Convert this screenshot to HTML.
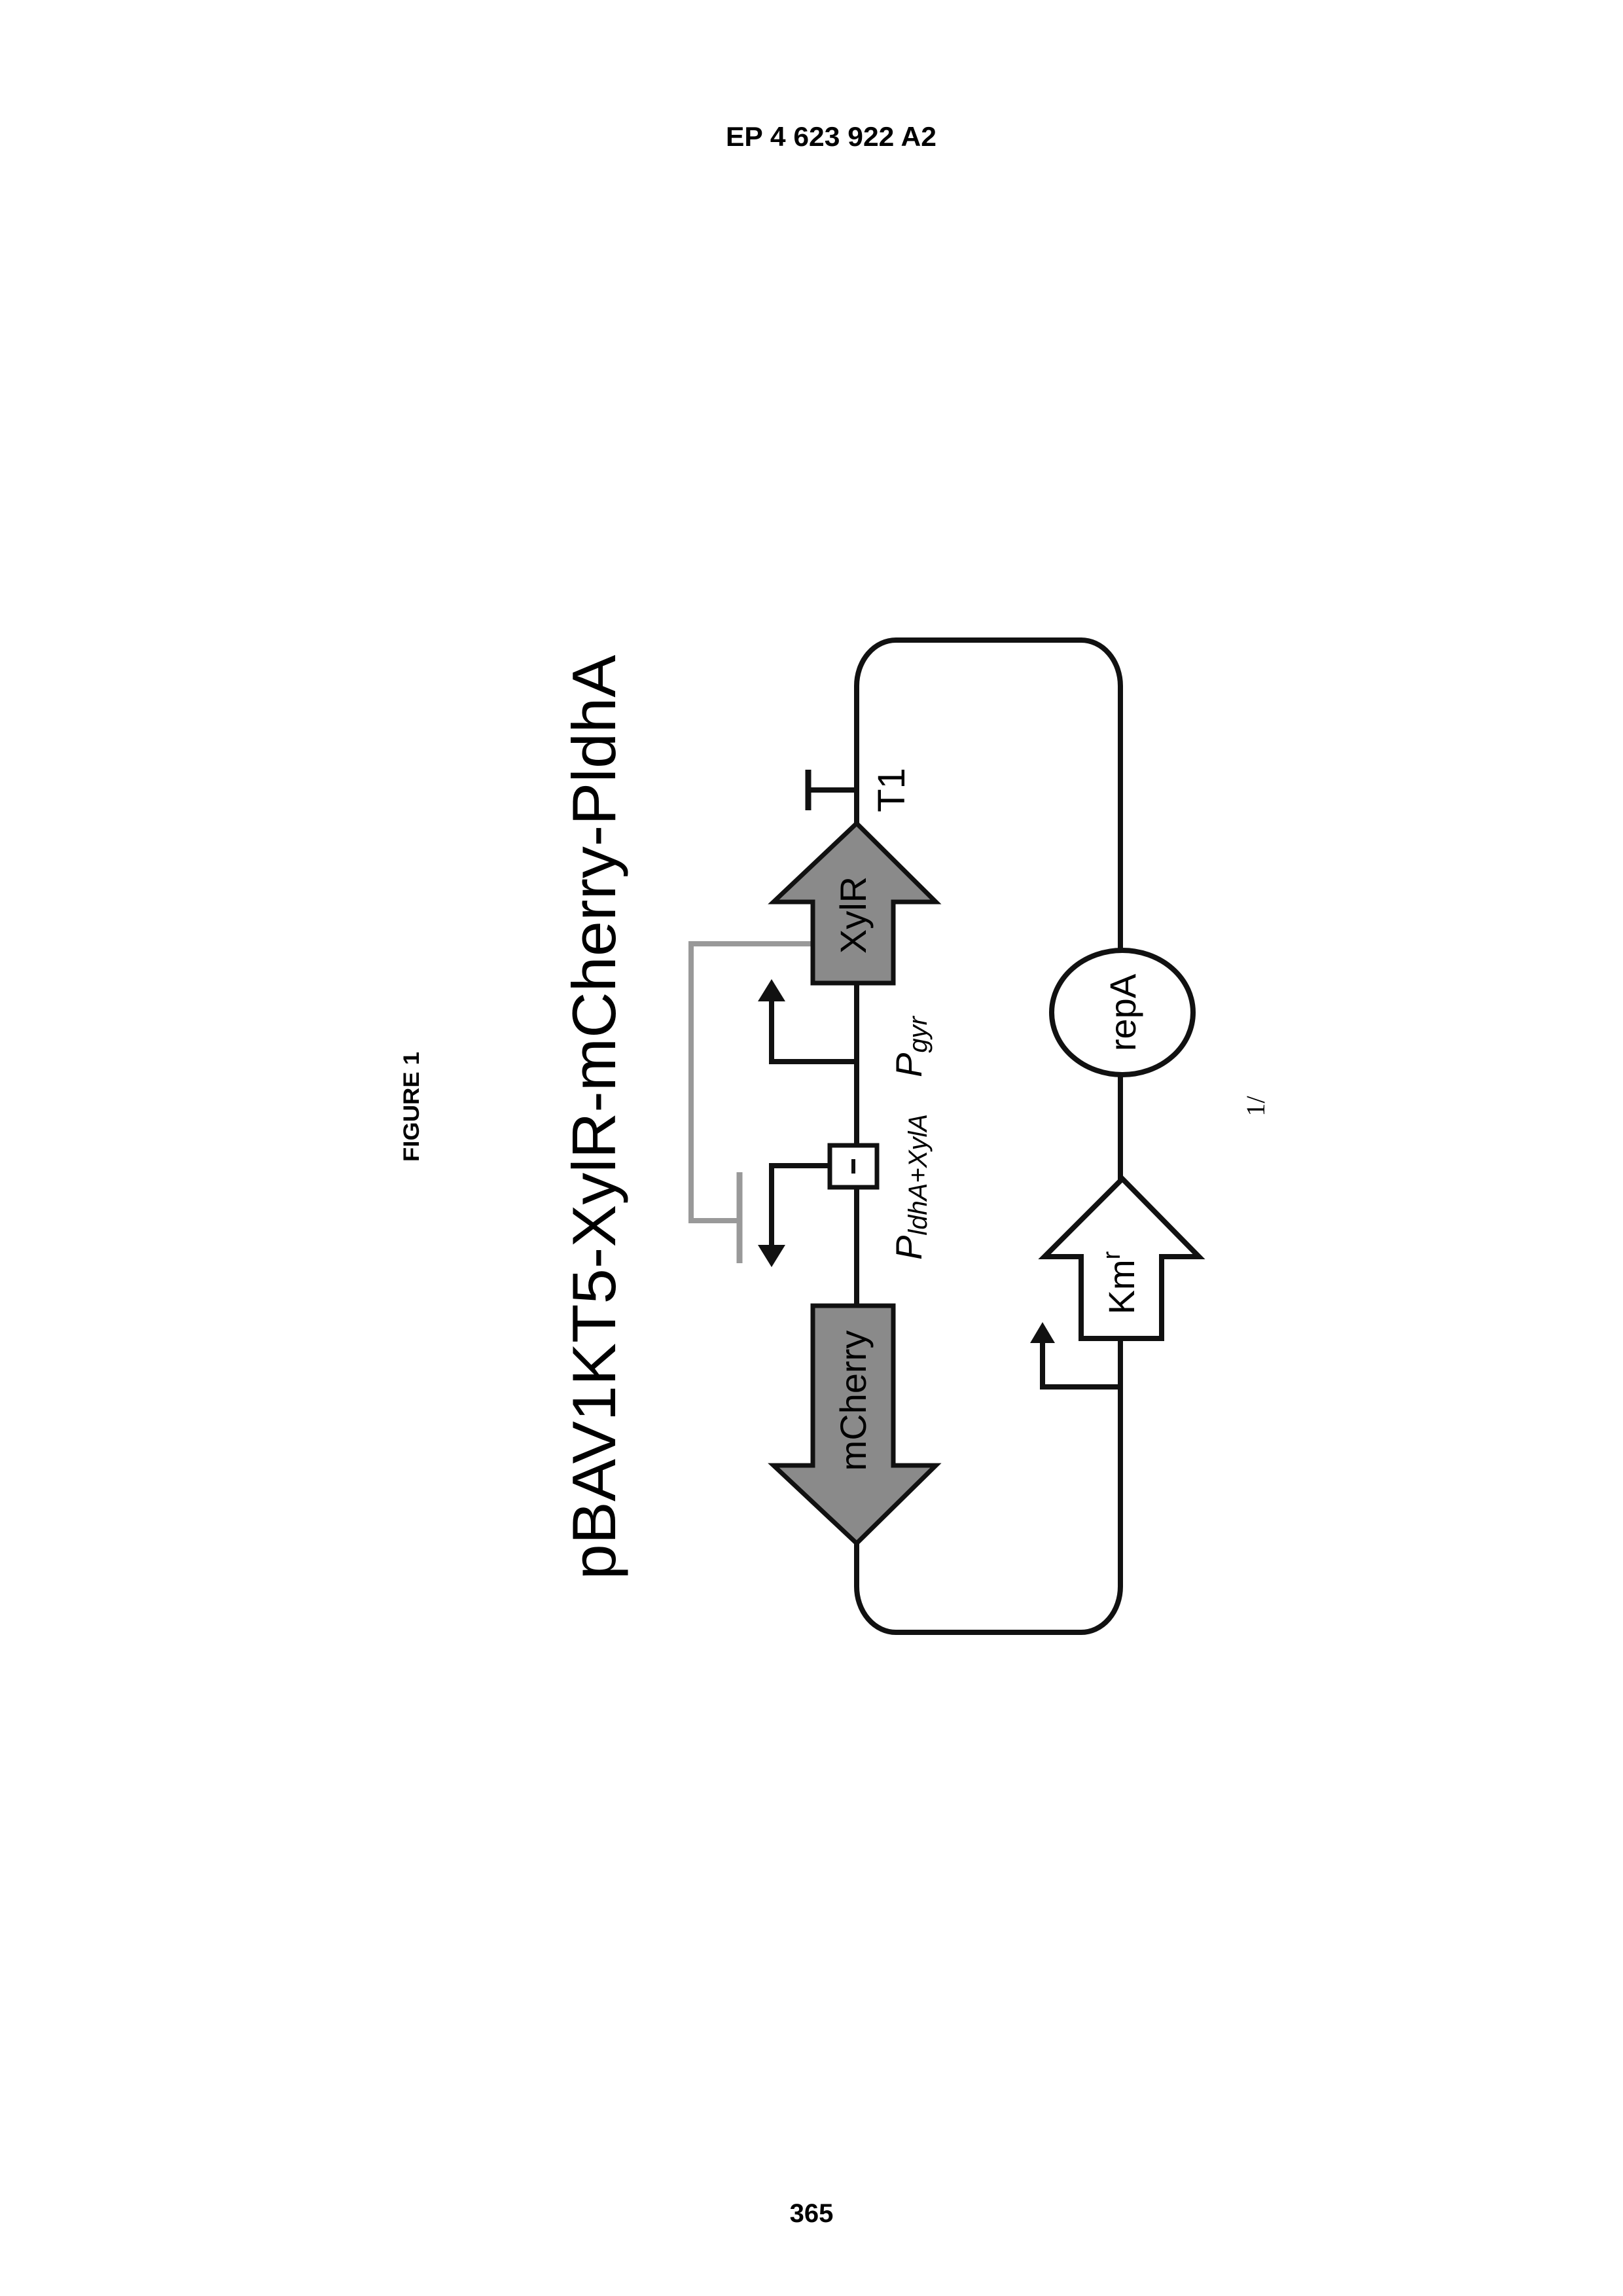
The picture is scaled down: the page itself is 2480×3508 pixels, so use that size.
<!DOCTYPE html>
<html><head><meta charset="utf-8"><style>html,body{margin:0;padding:0;background:#fff}svg{display:block}</style></head>
<body>
<svg width="2480" height="3508" viewBox="0 0 2480 3508" xmlns="http://www.w3.org/2000/svg" font-family="Liberation Sans, sans-serif">
<rect width="2480" height="3508" fill="#fff"/>
<text x="1270" y="223" font-size="42" font-weight="bold" text-anchor="middle" textLength="322" lengthAdjust="spacingAndGlyphs">EP 4 623 922 A2</text>
<text x="1240" y="3395" font-size="40" font-weight="bold" text-anchor="middle">365</text>
<text transform="translate(640,1691) rotate(-90)" font-size="34" font-weight="bold" text-anchor="middle" textLength="168" lengthAdjust="spacingAndGlyphs">FIGURE 1</text>
<text transform="translate(1932,1690) rotate(-90)" font-size="40" font-family="Liberation Serif, serif" text-anchor="middle">1/</text>
<text transform="translate(940,1707) rotate(-90)" font-size="94" text-anchor="middle" textLength="1413" lengthAdjust="spacingAndGlyphs">pBAV1KT5-XylR-mCherry-PldhA</text>
<rect x="1309" y="978" width="403" height="1516" rx="60" ry="70" fill="none" stroke="#111" stroke-width="8"/>
<polyline points="1242,1442 1056,1442 1056,1865 1130,1865" fill="none" stroke="#999" stroke-width="8"/>
<line x1="1130" y1="1791" x2="1130" y2="1930" stroke="#999" stroke-width="9"/>
<line x1="1235" y1="1207" x2="1309" y2="1207" stroke="#111" stroke-width="8"/>
<line x1="1235" y1="1176" x2="1235" y2="1238" stroke="#111" stroke-width="9"/>
<text transform="translate(1382,1207) rotate(-90)" font-size="58" text-anchor="middle">T1</text>
<polygon points="1309,1258 1430,1378 1365,1378 1365,1502 1242,1502 1242,1378 1182,1378" fill="#8a8a8a" stroke="#111" stroke-width="7"/>
<text transform="translate(1323,1398) rotate(-90)" font-size="56" text-anchor="middle">XylR</text>
<polyline points="1309,1622 1179,1622 1179,1525" fill="none" stroke="#111" stroke-width="8"/>
<polygon points="1179,1496 1158,1530 1200,1530" fill="#111"/>
<text transform="translate(1408,1646) rotate(-90)" font-size="56" font-style="italic">P<tspan font-size="40" dy="8">gyr</tspan></text>
<polyline points="1266,1781 1179,1781 1179,1905" fill="none" stroke="#111" stroke-width="8"/>
<polygon points="1179,1936 1158,1902 1200,1902" fill="#111"/>
<rect x="1268" y="1750" width="72" height="64" fill="#fff" stroke="#111" stroke-width="7"/>
<line x1="1304" y1="1771" x2="1304" y2="1793" stroke="#111" stroke-width="6"/>
<text transform="translate(1408,1925) rotate(-90)" font-size="56" font-style="italic">P<tspan font-size="40" dy="8">ldhA+XylA</tspan></text>
<polygon points="1242,1995 1365,1995 1365,2239 1430,2239 1309,2358 1182,2239 1242,2239" fill="#8a8a8a" stroke="#111" stroke-width="7"/>
<text transform="translate(1323,2140) rotate(-90)" font-size="56" text-anchor="middle">mCherry</text>
<ellipse cx="1715" cy="1547" rx="108" ry="95" fill="#fff" stroke="#111" stroke-width="8"/>
<text transform="translate(1735,1547) rotate(-90)" font-size="56" text-anchor="middle">repA</text>
<polygon points="1715,1801 1832,1920 1775,1920 1775,2045 1652,2045 1652,1920 1596,1920" fill="#fff" stroke="#111" stroke-width="8"/>
<text transform="translate(1733,1960) rotate(-90)" font-size="56" text-anchor="middle">Km<tspan font-size="38" dy="-22">r</tspan></text>
<polyline points="1715,2119 1593,2119 1593,2048" fill="none" stroke="#111" stroke-width="8"/>
<polygon points="1593,2020 1574,2052 1612,2052" fill="#111"/>
</svg>
</body></html>
